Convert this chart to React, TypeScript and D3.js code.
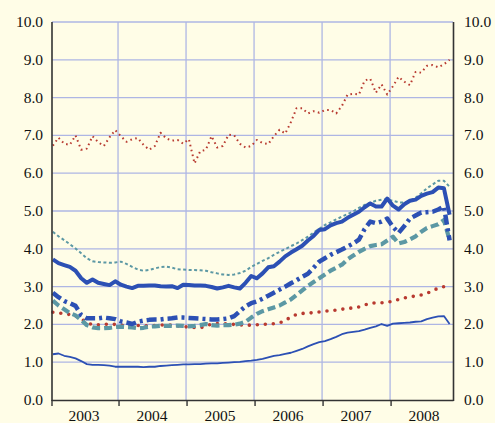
import * as d3 from 'd3';

// monthly values, Jan 2003 .. Nov 2008
const redHigh = [6.73, 6.94, 6.78, 6.75, 7.0, 6.62, 6.65, 6.98, 6.82, 6.72, 6.95, 7.14, 6.98, 6.83, 6.9, 6.93, 6.75, 6.62, 6.72, 7.07, 6.92, 6.86, 6.88, 6.78, 6.9, 6.26, 6.58, 6.62, 6.98, 6.68, 6.72, 7.02, 7.0, 6.78, 6.68, 6.72, 6.88, 6.8, 6.77, 6.98, 7.15, 7.05, 7.35, 7.72, 7.72, 7.58, 7.64, 7.6, 7.67, 7.67, 7.58, 7.78, 8.08, 8.1, 8.08, 8.45, 8.5, 8.13, 8.35, 8.08, 8.3, 8.55, 8.42, 8.33, 8.68, 8.66, 8.84, 8.86, 8.8, 8.88, 9.0];
const tealThin = [4.45, 4.33, 4.23, 4.12, 4.01, 3.88, 3.75, 3.67, 3.65, 3.64, 3.63, 3.64, 3.66, 3.6, 3.52, 3.45, 3.42, 3.44, 3.48, 3.52, 3.53, 3.5, 3.46, 3.45, 3.44, 3.44, 3.43, 3.42, 3.38, 3.35, 3.32, 3.31, 3.32, 3.36, 3.42, 3.52, 3.6, 3.68, 3.75, 3.84, 3.92, 3.99, 4.07, 4.14, 4.23, 4.32, 4.43, 4.53, 4.63, 4.7, 4.78, 4.85, 4.92, 4.99, 5.08, 5.16, 5.22, 5.27, 5.3, 5.31, 5.27, 5.23, 5.22, 5.27, 5.35, 5.47, 5.6, 5.7, 5.8, 5.8, 5.64];
const blueThick = [3.72, 3.62, 3.57, 3.52, 3.42, 3.22, 3.1, 3.19, 3.1, 3.07, 3.04, 3.14, 3.05, 3.0, 2.96, 3.02, 3.02, 3.03, 3.03, 3.01, 3.0, 3.01, 2.96, 3.05, 3.04, 3.03, 3.03, 3.02, 2.99, 2.95, 2.98, 3.02, 2.98, 2.95, 3.1, 3.28, 3.22, 3.35, 3.51, 3.54, 3.66, 3.8, 3.9, 3.99, 4.08, 4.22, 4.34, 4.5, 4.52, 4.62, 4.68, 4.72, 4.82, 4.9, 4.98, 5.1, 5.2, 5.12, 5.12, 5.33, 5.14, 5.04, 5.18, 5.27, 5.3, 5.4, 5.46, 5.5, 5.62, 5.6, 4.9];
const blueDashDot = [2.84, 2.72, 2.62, 2.56, 2.49, 2.25, 2.16, 2.16, 2.16, 2.18, 2.16, 2.14, 2.08, 2.05, 2.01, 2.07, 2.1, 2.12, 2.13, 2.13, 2.15, 2.16, 2.18, 2.18, 2.17, 2.16, 2.15, 2.14, 2.13, 2.13, 2.14, 2.16, 2.22, 2.35, 2.48, 2.56, 2.61, 2.68, 2.76, 2.84, 2.92, 3.0, 3.09, 3.17, 3.26, 3.34, 3.5, 3.66, 3.75, 3.84, 3.91, 3.98, 4.06, 4.14, 4.24, 4.52, 4.72, 4.68, 4.72, 4.8, 4.58, 4.42, 4.6, 4.8, 4.88, 4.96, 4.97, 4.98, 5.04, 5.12, 4.22];
const tealDashed = [2.63, 2.5, 2.4, 2.3, 2.24, 2.12, 1.98, 1.92, 1.9, 1.9, 1.91, 1.93, 1.94, 1.93, 1.92, 1.9, 1.91, 1.94, 1.95, 1.96, 1.96, 1.96, 1.97, 1.96, 1.95, 1.96, 1.98, 2.01, 1.98, 1.97, 1.98, 1.98, 1.99, 2.02, 2.07, 2.18, 2.28, 2.35, 2.4, 2.45, 2.5, 2.58, 2.66, 2.78, 2.9, 3.02, 3.12, 3.22, 3.32, 3.42, 3.5, 3.58, 3.72, 3.82, 3.92, 4.0, 4.07, 4.1, 4.12, 4.22, 4.32, 4.14, 4.18, 4.25, 4.33, 4.45, 4.55, 4.6, 4.65, 4.76, 4.23];
const redLow = [2.32, 2.3, 2.29, 2.26, 2.22, 2.14, 2.05, 1.99, 1.99, 2.0, 2.01, 2.0, 1.98, 1.97, 1.97, 1.97, 1.97, 1.96, 1.97, 1.98, 1.99, 1.98, 1.96, 1.94, 1.93, 1.92, 1.91, 1.95, 2.01, 2.02, 2.02, 2.01, 2.0, 1.99, 1.98, 1.98, 1.99, 2.0, 2.01, 2.02, 2.04, 2.1, 2.2, 2.26, 2.29, 2.3, 2.31, 2.33, 2.35, 2.36, 2.38, 2.4, 2.43, 2.43, 2.46, 2.51, 2.56, 2.57, 2.57, 2.59, 2.61, 2.66, 2.7, 2.73, 2.75, 2.78, 2.82, 2.89, 2.96, 3.0, 3.02];
const blueThin = [1.21, 1.23, 1.17, 1.14, 1.1, 1.03, 0.95, 0.93, 0.93, 0.92, 0.91, 0.88, 0.88, 0.88, 0.88, 0.88, 0.87, 0.88, 0.88, 0.9, 0.91, 0.92, 0.93, 0.94, 0.94, 0.95, 0.95, 0.96, 0.97, 0.97, 0.98, 0.99, 1.0, 1.01, 1.03, 1.04, 1.06, 1.09, 1.13, 1.17, 1.19, 1.22, 1.25, 1.3, 1.35, 1.42, 1.48, 1.53, 1.56, 1.61, 1.67, 1.74, 1.78, 1.8, 1.82, 1.86, 1.91, 1.95, 2.01, 1.96, 2.02, 2.03, 2.04, 2.05, 2.07, 2.08, 2.14, 2.18, 2.21, 2.22, 2.01];

const years = ['2003', '2004', '2005', '2006', '2007', '2008'];
const yTicks = [0, 1, 2, 3, 4, 5, 6, 7, 8, 9, 10];

const W = 495;
const H = 423;
const BG = '#FFFDE7';
const GRID = '#AEB6E4';
const BLUE = '#2C50B4';
const TEAL = '#5C98A4';
const RED = '#B83A30';
const FONT = "'Liberation Serif', 'Times New Roman', Times, serif";

const series = [
  { values: blueThin, color: BLUE, width: 1.8, dash: null, cap: 'butt' },
  { values: redLow, color: RED, width: 3.6, dash: '0 8', cap: 'round' },
  { values: tealDashed, color: TEAL, width: 4.2, dash: '8 4', cap: 'butt' },
  { values: blueDashDot, color: BLUE, width: 4.5, dash: '10 4 3 4', cap: 'butt' },
  { values: tealThin, color: TEAL, width: 2, dash: '3 2.5', cap: 'butt' },
  { values: blueThick, color: BLUE, width: 4, dash: null, cap: 'butt' },
  { values: redHigh, color: RED, width: 2, dash: '1.6 3.4', cap: 'butt' },
];

export default function App() {
  const x = d3.scaleLinear().domain([0.35, 71.1]).range([52, 453]);
  const y = d3.scaleLinear().domain([0, 10]).range([400, 22]);
  const left = x.range()[0];
  const right = x.range()[1];

  const line = d3
    .line<number>()
    .x((_, i) => x(i + 0.5))
    .y((d) => y(d));

  const yearStarts = years.map((_, i) => i * 12);

  return (
    <svg
      width={W}
      height={H}
      style={{ position: 'absolute', left: 0, top: 0, display: 'block', fontFamily: FONT }}
    >
      <rect x={0} y={0} width={W} height={H} fill={BG} />

      {/* grid */}
      {yTicks.filter((t) => t > 0).map((t) => (
        <line key={'h' + t} x1={left} x2={right} y1={y(t)} y2={y(t)} stroke={GRID} strokeWidth={1.3} />
      ))}
      {yearStarts.filter((m) => m > 0).map((m) => (
        <line key={'v' + m} x1={x(m)} x2={x(m)} y1={y(10)} y2={y(0)} stroke={GRID} strokeWidth={1.3} />
      ))}

      {/* series */}
      {series.map((s, i) => (
        <path
          key={i}
          d={line(s.values) || ''}
          fill="none"
          stroke={s.color}
          strokeWidth={s.width}
          strokeDasharray={s.dash || undefined}
          strokeLinecap={s.cap as any}
          strokeLinejoin="round"
        />
      ))}

      {/* axes */}
      <line x1={left} x2={left} y1={y(10)} y2={y(0) + 1} stroke="#333" strokeWidth={1.6} />
      <line x1={right + 0.5} x2={right + 0.5} y1={y(10)} y2={y(0) + 1} stroke="#333" strokeWidth={1.6} />
      <line x1={left} x2={right + 0.5} y1={y(0) + 0.5} y2={y(0) + 0.5} stroke="#333" strokeWidth={1.4} />
      {yearStarts.map((m) => {
        const xx = m === 0 ? left : x(m) + 1;
        return <line key={'t' + m} x1={xx} x2={xx} y1={y(0)} y2={y(0) + 6} stroke="#333" strokeWidth={1.4} />;
      })}

      {/* y labels */}
      {yTicks.map((t) => (
        <text key={'l' + t} x={43} y={y(t) + 5} textAnchor="end" fontSize={15.5} fill="#111">
          {t.toFixed(1)}
        </text>
      ))}
      {yTicks.map((t) => (
        <text key={'r' + t} x={464} y={y(t) + 5} textAnchor="start" fontSize={15.5} fill="#111">
          {t.toFixed(1)}
        </text>
      ))}

      {/* x labels */}
      {years.map((yr, i) => (
        <text key={yr} x={x(i * 12 + 6)} y={421} textAnchor="middle" fontSize={15.5} fill="#111">
          {yr}
        </text>
      ))}
    </svg>
  );
}
